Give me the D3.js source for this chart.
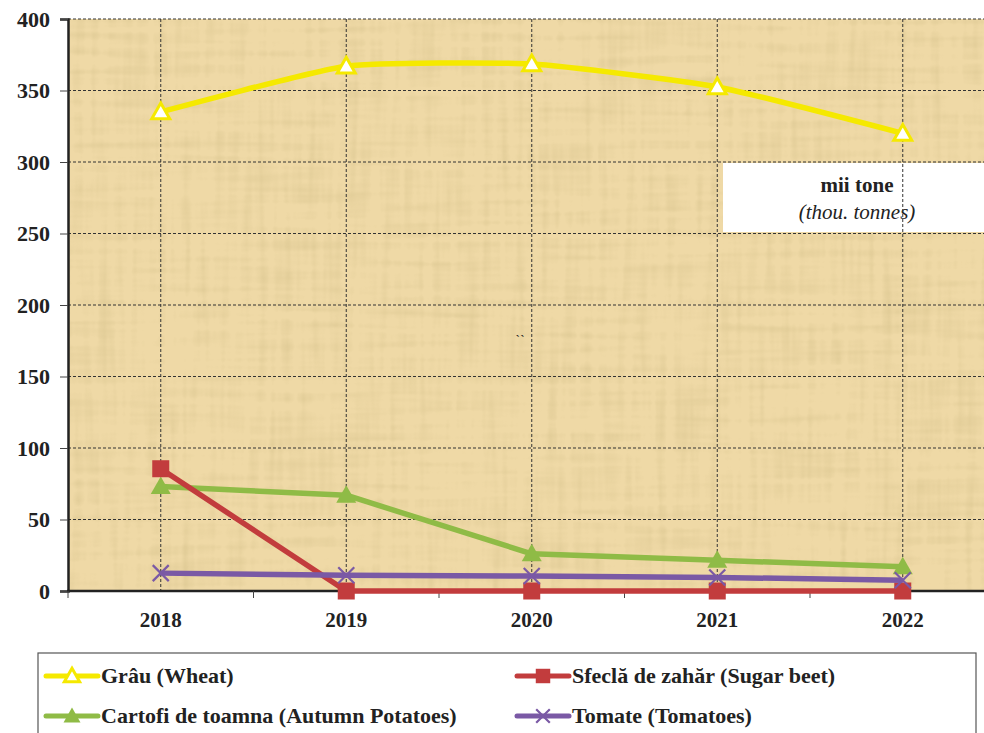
<!DOCTYPE html>
<html>
<head>
<meta charset="utf-8">
<script src="https://cdn.jsdelivr.net/npm/d3@7"></script>
<style>
  body { margin: 0; background: #fff; }
  svg { display: block; }
</style>
</head>
<body>
<svg width="984" height="733"></svg>
<script>
// data
const years = ['2018', '2019', '2020', '2021', '2022'];
const wheat = [335, 367, 368.5, 352.5, 320];
const sugarBeet = [85.5, 0, 0, 0, 0];
const potatoes = [73, 67, 26, 21.5, 17];
const tomatoes = [12.5, 11, 10.5, 9.5, 7.5];
const yTicks = [0, 50, 100, 150, 200, 250, 300, 350, 400];

const series = [
  { name: 'Grâu (Wheat)', values: wheat, color: '#f5e900', marker: 'triOpen', smooth: true },
  { name: 'Cartofi de toamna (Autumn Potatoes)', values: potatoes, color: '#8fbb46', marker: 'tri' },
  { name: 'Sfeclă de zahăr (Sugar beet)', values: sugarBeet, color: '#c23c3d', marker: 'square' },
  { name: 'Tomate (Tomatoes)', values: tomatoes, color: '#7a59a5', marker: 'x' }
];

const FONT = '"Liberation Serif", "Times New Roman", "DejaVu Serif", serif';

const svg = d3.select('svg');
const m = { left: 68, top: 19, bottom: 591 };
const plotW = 185.5 * years.length;

const x = d3.scaleBand().domain(years).range([m.left, m.left + plotW]);
const y = d3.scaleLinear().domain([0, 400]).range([m.bottom, m.top]);
const cx = d => x(d) + x.bandwidth() / 2;

function txt(g, tx, ty, s, size, opts) {
  opts = opts || {};
  return g.append('text').attr('x', tx).attr('y', ty)
    .attr('text-anchor', opts.anchor || 'start')
    .style('font-family', FONT).style('font-size', size + 'px')
    .style('font-weight', opts.italic ? 'normal' : 'bold')
    .style('font-style', opts.italic ? 'italic' : 'normal')
    .attr('fill', '#222').text(s);
}

// paper texture
const defs = svg.append('defs');
const f = defs.append('filter').attr('id', 'paper')
  .attr('x', 0).attr('y', 0).attr('width', '100%').attr('height', '100%');
f.append('feTurbulence').attr('type', 'fractalNoise').attr('baseFrequency', '0.008 0.12')
  .attr('numOctaves', 2).attr('seed', 4).attr('result', 'n1');
f.append('feTurbulence').attr('type', 'fractalNoise').attr('baseFrequency', '0.12 0.008')
  .attr('numOctaves', 2).attr('seed', 9).attr('result', 'n2');
f.append('feComposite').attr('in', 'n1').attr('in2', 'n2').attr('operator', 'arithmetic')
  .attr('k1', 0).attr('k2', 0.5).attr('k3', 0.5).attr('k4', 0).attr('result', 'n');
f.append('feColorMatrix').attr('in', 'n').attr('type', 'matrix')
  .attr('values', '0 0 0 0 0.6  0 0 0 0 0.48  0 0 0 0 0.22  -3 0 0 0 1.65');

const clipW = 984 - m.left;
svg.append('rect').attr('x', m.left).attr('y', m.top).attr('width', clipW)
  .attr('height', m.bottom - m.top).attr('fill', '#efd9a6');
svg.append('rect').attr('x', m.left).attr('y', m.top).attr('width', clipW)
  .attr('height', m.bottom - m.top).attr('fill', '#000')
  .attr('filter', 'url(#paper)').attr('opacity', 0.35);

// unit box
svg.append('rect').attr('x', 723).attr('y', 163).attr('width', 261).attr('height', 69).attr('fill', '#fff');
txt(svg, 857, 192, 'mii tone', 21, { anchor: 'middle' });
txt(svg, 857, 219, '(thou. tonnes)', 21, { anchor: 'middle', italic: true });
txt(svg, 519, 345, '``', 14, { anchor: 'middle', italic: true });

// grid
const grid = svg.append('g').attr('stroke', '#333').attr('stroke-width', 1).attr('stroke-dasharray', '3,2');
grid.selectAll('.h').data(yTicks.filter(d => d > 0)).join('line')
  .attr('x1', m.left).attr('x2', 984).attr('y1', d => y(d)).attr('y2', d => y(d));
grid.selectAll('.v').data(years).join('line')
  .attr('x1', cx).attr('x2', cx).attr('y1', m.top).attr('y2', m.bottom);

// axes
const yAxis = svg.append('g').attr('transform', `translate(${m.left},0)`)
  .call(d3.axisLeft(y).tickValues(yTicks).tickSize(8).tickPadding(10));
yAxis.select('.domain').attr('stroke', '#222').attr('stroke-width', 2.5);
yAxis.selectAll('.tick line').attr('stroke', '#444');
yAxis.selectAll('text').style('font-size', '22px').style('font-weight', 'bold')
  .style('font-family', FONT).attr('fill', '#222');

const xg = svg.append('g').attr('transform', `translate(0,${m.bottom})`);
xg.append('line').attr('x1', m.left - 1).attr('x2', 984).attr('stroke', '#222').attr('stroke-width', 2.5);
xg.selectAll('.tk').data(years.slice(1)).join('line')
  .attr('x1', d => x(d)).attr('x2', d => x(d)).attr('y1', 0).attr('y2', 7).attr('stroke', '#444');
xg.append('line').attr('x1', m.left).attr('x2', m.left).attr('y1', 0).attr('y2', 7).attr('stroke', '#444');
years.forEach(d => txt(xg, cx(d), 36, d, 21, { anchor: 'middle' }));

// markers
function drawMarker(g, type, color, px, py, s) {
  s = s || 1;
  if (type === 'triOpen') {
    const h = 9 * s;
    g.append('path').attr('d', `M${px},${py - h}L${px + h},${py + h * 0.75}L${px - h},${py + h * 0.75}Z`)
      .attr('fill', '#fff').attr('stroke', color).attr('stroke-width', 3).attr('stroke-linejoin', 'miter');
  } else if (type === 'tri') {
    const h = 10 * s;
    g.append('path').attr('d', `M${px},${py - h}L${px + h},${py + h * 0.75}L${px - h},${py + h * 0.75}Z`)
      .attr('fill', color);
  } else if (type === 'square') {
    const h = 8.5 * s;
    g.append('rect').attr('x', px - h).attr('y', py - h).attr('width', 2 * h).attr('height', 2 * h)
      .attr('fill', color);
  } else {
    const h = 8 * s;
    g.append('path').attr('d', `M${px - h},${py - h}L${px + h},${py + h}M${px - h},${py + h}L${px + h},${py - h}`)
      .attr('stroke', color).attr('stroke-width', 2.2);
  }
}

// series
series.forEach(s => {
  const line = d3.line()
    .x((d, i) => cx(years[i]))
    .y(d => y(d))
    .curve(s.smooth ? d3.curveCardinal.tension(0.5) : d3.curveLinear);
  const g = svg.append('g');
  g.append('path').datum(s.values).attr('d', line)
    .attr('fill', 'none').attr('stroke', s.color).attr('stroke-width', 5.5).attr('stroke-linejoin', 'round');
  s.values.forEach((v, i) => drawMarker(g, s.marker, s.color, cx(years[i]), y(v)));
});

// legend
const lg = svg.append('g');
lg.append('rect').attr('x', 38).attr('y', 653).attr('width', 938).attr('height', 90)
  .attr('fill', '#fff').attr('stroke', '#555').attr('stroke-width', 1.2);
const legPos = [[46, 676], [46, 716], [517, 676], [517, 716]];
series.forEach((s, k) => {
  const [lx, ly] = legPos[k];
  lg.append('line').attr('x1', lx).attr('x2', lx + 52).attr('y1', ly).attr('y2', ly)
    .attr('stroke', s.color).attr('stroke-width', 5).attr('stroke-linecap', 'round');
  drawMarker(lg, s.marker, s.color, lx + 26, ly, 0.85);
  txt(lg, lx + 55, ly + 7, s.name, 22);
});
</script>
</body>
</html>
